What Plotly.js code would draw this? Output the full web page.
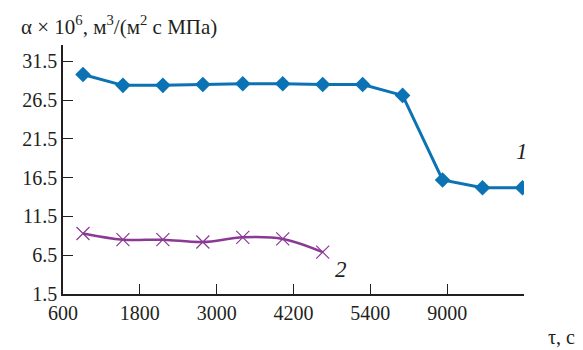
<!DOCTYPE html>
<html><head><meta charset="utf-8">
<script src="https://cdn.plot.ly/plotly-3.0.1.min.js"></script>
<style>html,body{margin:0;padding:0;background:#fff}#c{width:583px;height:350px}</style>
</head><body><div id="c"></div>
<script>
const tickPos = [0, 1, 2, 3, 4, 5, 6];
const tickLabels = ["600", "1800", "3000", "4200", "5400", "9000", ""];
const xPos1 = [0.26, 0.78, 1.30, 1.82, 2.34, 2.86, 3.38, 3.90, 4.42, 4.94, 5.46, 5.98];
const y1 = [29.8, 28.4, 28.4, 28.5, 28.6, 28.6, 28.5, 28.5, 27.1, 16.2, 15.2, 15.2];
const xPos2 = [0.26, 0.78, 1.30, 1.82, 2.34, 2.86, 3.38];
const y2 = [9.3, 8.5, 8.5, 8.2, 8.8, 8.6, 6.9];
const yTicks = [1.5, 6.5, 11.5, 16.5, 21.5, 26.5, 31.5];
const FF = "Liberation Serif";
const inkColor = "#231f20";
const blueColor = "#0b72b3";
const purpleColor = "#8a3a94";
const layout = {
  width: 583, height: 350, showlegend: false,
  margin: {l: 63, r: 59, t: 45, b: 56},
  font: {family: FF, size: 20, color: inkColor},
  xaxis: {range: [0, 6], tickvals: tickPos, ticktext: tickLabels, ticks: "inside", ticklen: 10,
    tickcolor: inkColor, showline: true, linecolor: inkColor, linewidth: 1.5,
    showgrid: false, zeroline: false},
  yaxis: {range: [1.5, 33.6], tickvals: yTicks, ticktext: yTicks.map(v => v.toFixed(1)),
    ticks: "inside", ticklen: 10, tickcolor: inkColor, showline: true,
    linecolor: inkColor, linewidth: 1.5, showgrid: false, zeroline: false},
  annotations: [
    {xref: "paper", yref: "paper", x: -0.095, y: 1.0, xanchor: "left", yanchor: "bottom", yshift: 4,
     text: "α × 10<sup>6</sup>, м<sup>3</sup>/(м<sup>2</sup> с МПа)", showarrow: false, font: {size: 21}},
    {xref: "paper", yref: "paper", x: 1.115, y: 0, xanchor: "right", yanchor: "top", yshift: -30,
     text: "τ, с", showarrow: false},
    {xref: "x", yref: "y", x: 5.98, y: 18.0, xanchor: "center", yanchor: "bottom",
     text: "<i>1</i>", showarrow: false, font: {size: 23}},
    {xref: "x", yref: "y", x: 3.62, y: 4.6, xanchor: "center", yanchor: "middle",
     text: "<i>2</i>", showarrow: false, font: {size: 23}}
  ]
};
const traces = [
  {x: xPos1, y: y1, mode: "lines+markers", line: {color: blueColor, width: 3},
   marker: {symbol: "diamond", size: 12, color: blueColor}},
  {x: xPos2, y: y2, mode: "lines+markers", line: {color: purpleColor, width: 2.5, shape: "spline"},
   marker: {symbol: "x-thin-open", size: 13, color: purpleColor, line: {color: purpleColor, width: 1.2}}}
];
Plotly.newPlot("c", traces, layout, {displayModeBar: false}).then(() => {
  document.querySelectorAll("#c text").forEach(t => { t.style.fontFamily = "'Liberation Serif'"; });
});
</script></body></html>
